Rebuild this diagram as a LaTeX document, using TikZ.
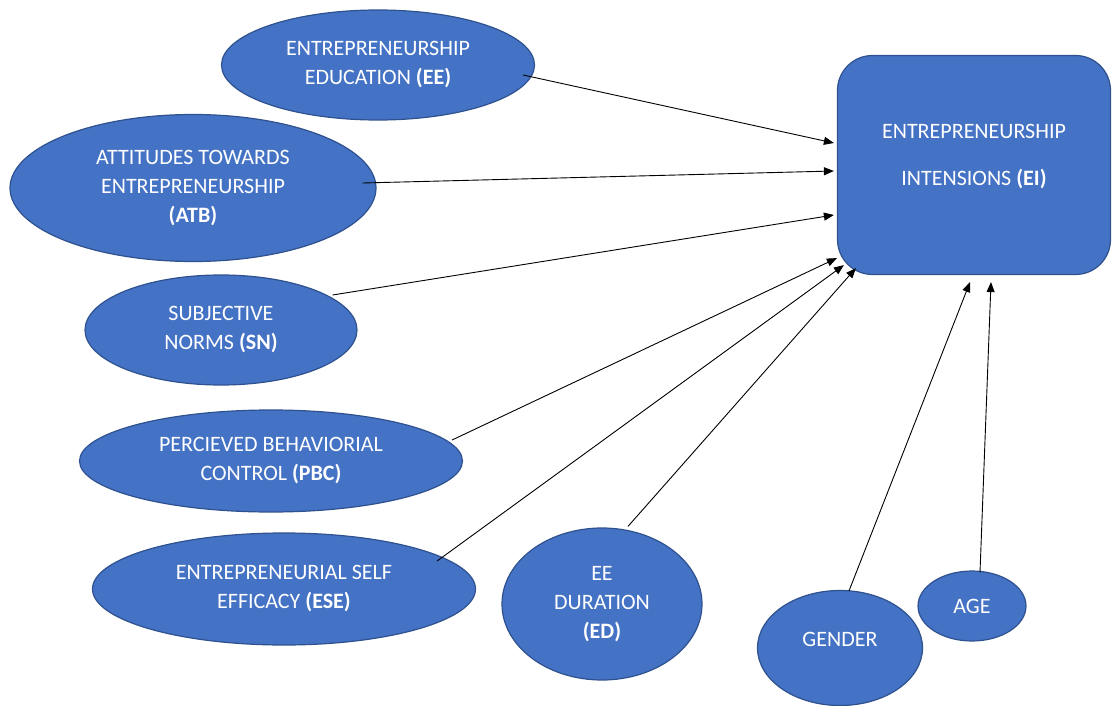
\documentclass[tikz,border=0pt]{standalone}
\usepackage{fontspec}
\setmainfont{Carlito}
\usetikzlibrary{shapes.geometric,arrows.meta}

\definecolor{boxfill}{HTML}{4472C4}
\definecolor{boxline}{HTML}{2F528F}

\tikzset{
  factor/.style={ellipse, draw=boxline, line width=1.2pt, fill=boxfill,
    text=white, align=center, inner sep=0pt,
    font=\fontsize{22}{29}\selectfont},
  target/.style={rectangle, rounded corners=35pt, draw=boxline, line width=1.2pt,
    fill=boxfill, text=white, align=center, inner sep=0pt,
    font=\fontsize{22}{29}\selectfont},
  link/.style={-{Triangle[length=10pt,width=8pt]}, line width=0.9pt, black}
}

\begin{document}
\begin{tikzpicture}[x=1pt,y=-1pt]
\useasboundingbox (0,0) rectangle (1112,706);

% outcome
\node[target, minimum width=273pt, minimum height=219pt] (ei) at (974,165)
  {ENTREPRENEURSHIP\\[18pt]INTENSIONS \textbf{(EI)}\rule[-20pt]{0pt}{0pt}};

% predictors
\node[factor, minimum width=313pt, minimum height=110pt] (ee) at (378,65)
  {ENTREPRENEURSHIP\\EDUCATION \textbf{(EE)}};
\node[factor, minimum width=366pt, minimum height=147pt] (atb) at (193,188)
  {ATTITUDES TOWARDS\\ENTREPRENEURSHIP\\\textbf{(ATB)}};
\node[factor, minimum width=272pt, minimum height=110pt] (sn) at (221,330)
  {SUBJECTIVE\\NORMS \textbf{(SN)}};
\node[factor, minimum width=383pt, minimum height=102pt] (pbc) at (271,461)
  {PERCIEVED BEHAVIORIAL\\CONTROL \textbf{(PBC)}};
\node[factor, minimum width=383pt, minimum height=112pt] (ese) at (284,589)
  {ENTREPRENEURIAL SELF\\EFFICACY \textbf{(ESE)}};
\node[factor, minimum width=200pt, minimum height=152pt] (ed) at (602,604)
  {EE\\DURATION\\\textbf{(ED)}};

% controls
\node[factor, minimum width=165pt, minimum height=115pt] (gender) at (840,648)
  {GENDER\rule[-18pt]{0pt}{0pt}};
\node[factor, minimum width=108pt, minimum height=70pt] (age) at (972,606) {AGE};

% paths
\draw[link] ([xshift=-12pt,yshift=-10pt]ee.east) -- ([xshift=-3pt,yshift=22pt]ei.west);
\draw[link] ([xshift=-14pt,yshift=5pt]atb.east) -- ([xshift=-3pt,yshift=-6pt]ei.west);
\draw[link] ([xshift=-25pt,yshift=35pt]sn.east) -- ([xshift=-3pt,yshift=-50pt]ei.west);
\draw[link] ([xshift=-11pt,yshift=21pt]pbc.east) -- ([yshift=17pt]ei.south west);
\draw[link] ([xshift=-39pt,yshift=28pt]ese.east) -- ([xshift=7pt,yshift=10pt]ei.south west);
\draw[link] ([xshift=26pt,yshift=1pt]ed.north) -- ([xshift=19pt,yshift=7pt]ei.south west);
\draw[link] ([xshift=9pt,yshift=-1pt]gender.north) -- ([xshift=-4pt,yshift=-7pt]ei.south);
\draw[link] ([xshift=8pt,yshift=-2pt]age.north) -- ([xshift=17pt,yshift=-7pt]ei.south);

\end{tikzpicture}
\end{document}
